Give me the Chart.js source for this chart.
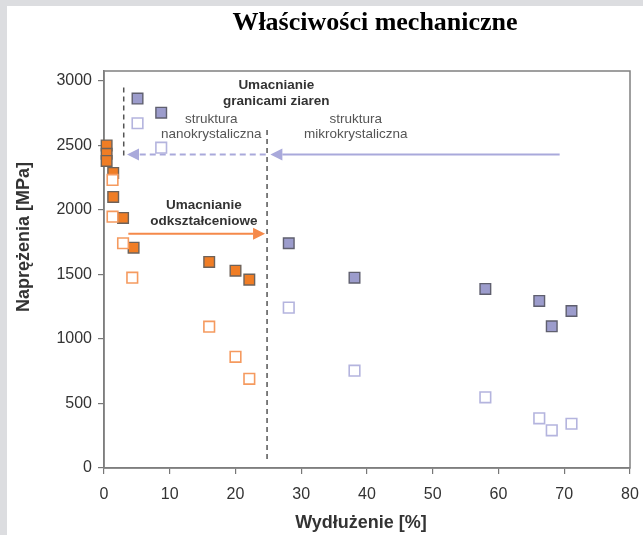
<!DOCTYPE html>
<html><head><meta charset="utf-8">
<script src="https://cdn.jsdelivr.net/npm/chart.js@4.4.0/dist/chart.umd.min.js"></script>
<style>html,body{margin:0;padding:0;background:#dcdde0;}</style>
</head><body>
<canvas id="c" width="643" height="535"></canvas>
<script>
// ---- data ----
const nanoFilledX = [0.4, 0.4, 0.4, 1.4, 1.4, 2.9, 4.5, 16.0, 20.0, 22.1];
const nanoFilledY = [2500, 2435, 2380, 2287, 2101, 1938, 1708, 1597, 1529, 1460];
const nanoOpenX   = [1.3, 1.3, 2.9, 4.3, 16.0, 20.0, 22.1];
const nanoOpenY   = [2233, 1948, 1742, 1475, 1095, 862, 691];
const microFilledX = [5.1, 8.7, 28.1, 38.1, 58.0, 66.2, 68.1, 71.1];
const microFilledY = [2863, 2754, 1742, 1475, 1388, 1295, 1098, 1217];
const microOpenX   = [5.1, 8.7, 28.1, 38.1, 58.0, 66.2, 68.1, 71.1];
const microOpenY   = [2672, 2483, 1243, 754, 548, 385, 292, 343];
const xTicks = [0, 10, 20, 30, 40, 50, 60, 70, 80];
const yTicks = [0, 500, 1000, 1500, 2000, 2500, 3000];

const titleText = 'Właściwości mechaniczne';
const xTitle = 'Wydłużenie [%]';
const yTitle = 'Naprężenia [MPa]';

// annotation definitions (in data units)
const annoLines = [
  {x1: 3,    y1: 2950, x2: 3,    y2: 2420, color: '#555', dash: [5, 4], width: 1.5},
  {x1: 24.8, y1: 2620, x2: 24.8, y2: 70,   color: '#555', dash: [5, 4], width: 1.5}
];
const annoArrows = [
  {x1: 69.3, y1: 2430, x2: 25.3, y2: 2430, color: '#a9a9db', dash: [],     width: 2},
  {x1: 24.6, y1: 2430, x2: 3.5,  y2: 2430, color: '#a9a9db', dash: [6, 4], width: 2},
  {x1: 3.7,  y1: 1815, x2: 24.5, y2: 1815, color: '#f5894a', dash: [],     width: 2}
];
const annoTexts = [
  {t: 'Umacnianie',        x: 26.2, y: 2969, bold: true},
  {t: 'granicami ziaren',  x: 26.2, y: 2845, bold: true},
  {t: 'struktura',         x: 16.3, y: 2700, bold: false},
  {t: 'nanokrystaliczna',  x: 16.3, y: 2589, bold: false},
  {t: 'struktura',         x: 38.3, y: 2700, bold: false},
  {t: 'mikrokrystaliczna', x: 38.3, y: 2589, bold: false},
  {t: 'Umacnianie',        x: 15.2, y: 2039, bold: true},
  {t: 'odkształceniowe',   x: 15.2, y: 1915, bold: true}
];

const zip = (xs, ys) => xs.map((x, i) => ({x: x, y: ys[i]}));
const SANS = "'Liberation Sans', Arial, sans-serif";

const bgPlugin = {
  id: 'bg',
  beforeDraw(chart) {
    const c = chart.ctx;
    c.save();
    c.fillStyle = '#dcdde0';
    c.fillRect(0, 0, chart.width, chart.height);
    c.fillStyle = '#ffffff';
    c.fillRect(7, 6, chart.width - 7, chart.height - 6);
    c.restore();
  }
};

const annoPlugin = {
  id: 'anno',
  beforeDatasetsDraw(chart) {
    const c = chart.ctx, xs = chart.scales.x, ys = chart.scales.y, a = chart.chartArea;
    c.save();
    c.strokeStyle = '#808080';
    c.lineWidth = 1.5;
    c.strokeRect(a.left, a.top, a.right - a.left, a.bottom - a.top);
    annoLines.forEach(l => {
      c.beginPath();
      c.setLineDash(l.dash);
      c.strokeStyle = l.color; c.lineWidth = l.width;
      c.moveTo(xs.getPixelForValue(l.x1), ys.getPixelForValue(l.y1));
      c.lineTo(xs.getPixelForValue(l.x2), ys.getPixelForValue(l.y2));
      c.stroke();
    });
    annoArrows.forEach(r => {
      const px1 = xs.getPixelForValue(r.x1), py1 = ys.getPixelForValue(r.y1);
      const px2 = xs.getPixelForValue(r.x2), py2 = ys.getPixelForValue(r.y2);
      const ang = Math.atan2(py2 - py1, px2 - px1);
      const hl = 12, hw = 6;
      const bx = px2 - hl * Math.cos(ang), by = py2 - hl * Math.sin(ang);
      c.beginPath();
      c.setLineDash(r.dash);
      c.strokeStyle = r.color; c.lineWidth = r.width;
      c.moveTo(px1, py1); c.lineTo(bx, by); c.stroke();
      c.setLineDash([]);
      c.beginPath();
      c.fillStyle = r.color;
      c.moveTo(px2, py2);
      c.lineTo(bx + hw * Math.sin(ang), by - hw * Math.cos(ang));
      c.lineTo(bx - hw * Math.sin(ang), by + hw * Math.cos(ang));
      c.closePath(); c.fill();
    });
    c.setLineDash([]);
    c.textAlign = 'center'; c.textBaseline = 'middle';
    annoTexts.forEach(t => {
      c.font = (t.bold ? 'bold ' : '') + '13.5px ' + SANS;
      c.fillStyle = t.bold ? '#333333' : '#555555';
      c.fillText(t.t, xs.getPixelForValue(t.x), ys.getPixelForValue(t.y));
    });
    c.restore();
  },
  afterDraw(chart) {
    const c = chart.ctx, a = chart.chartArea;
    c.save();
    c.textAlign = 'center'; c.textBaseline = 'middle';
    c.fillStyle = '#000';
    c.font = "bold 26px 'Liberation Serif', 'Times New Roman', serif";
    c.fillText(titleText, 375, 23);
    c.fillStyle = '#333';
    c.font = 'bold 18px ' + SANS;
    c.fillText(xTitle, (a.left + a.right) / 2 - 6, 523);
    c.translate(24, 237);
    c.rotate(-Math.PI / 2);
    c.fillText(yTitle, 0, 0);
    c.restore();
  }
};

new Chart(document.getElementById('c'), {
  type: 'scatter',
  data: {
    datasets: [
      {label: 'nano open', data: zip(nanoOpenX, nanoOpenY), pointStyle: 'rect', pointRadius: 7.5,
       backgroundColor: '#ffffff', borderColor: '#f59a5f', borderWidth: 1.6, clip: false},
      {label: 'micro open', data: zip(microOpenX, microOpenY), pointStyle: 'rect', pointRadius: 7.5,
       backgroundColor: '#ffffff', borderColor: '#b4b4de', borderWidth: 1.6, clip: false},
      {label: 'nano filled', data: zip(nanoFilledX, nanoFilledY), pointStyle: 'rect', pointRadius: 7.5,
       backgroundColor: '#f07d25', borderColor: '#6d625a', borderWidth: 1.4, clip: false},
      {label: 'micro filled', data: zip(microFilledX, microFilledY), pointStyle: 'rect', pointRadius: 7.5,
       backgroundColor: '#9c9ccc', borderColor: '#5f5f6e', borderWidth: 1.4, clip: false}
    ]
  },
  options: {
    responsive: false, animation: false, devicePixelRatio: 1,
    layout: {padding: {left: 0, right: 13, top: 71, bottom: 0}},
    plugins: {legend: {display: false}, tooltip: {enabled: false}, title: {display: false}},
    scales: {
      x: {
        type: 'linear', min: 0, max: 80,
        afterBuildTicks: s => { s.ticks = xTicks.map(v => ({value: v})); },
        afterFit: s => { s.height = 67; s.paddingLeft = 0; s.paddingRight = 0; },
        grid: {drawOnChartArea: false, drawTicks: true, tickLength: 6, color: '#777', lineWidth: 1.2},
        border: {display: true, color: '#777', width: 1.5},
        ticks: {padding: 11, color: '#333', font: {family: SANS, size: 16}, maxRotation: 0, autoSkip: false,
                callback: v => String(v)}
      },
      y: {
        type: 'linear', min: 0, max: 3077,
        afterBuildTicks: s => { s.ticks = yTicks.map(v => ({value: v})); },
        afterFit: s => { s.width = 104; s.paddingTop = 0; s.paddingBottom = 0; },
        grid: {drawOnChartArea: false, drawTicks: true, tickLength: 6, color: '#777', lineWidth: 1.2},
        border: {display: true, color: '#777', width: 1.5},
        ticks: {padding: 6, color: '#333', font: {family: SANS, size: 16}, autoSkip: false,
                callback: v => String(v)}
      }
    }
  },
  plugins: [bgPlugin, annoPlugin]
});
</script>
</body></html>
